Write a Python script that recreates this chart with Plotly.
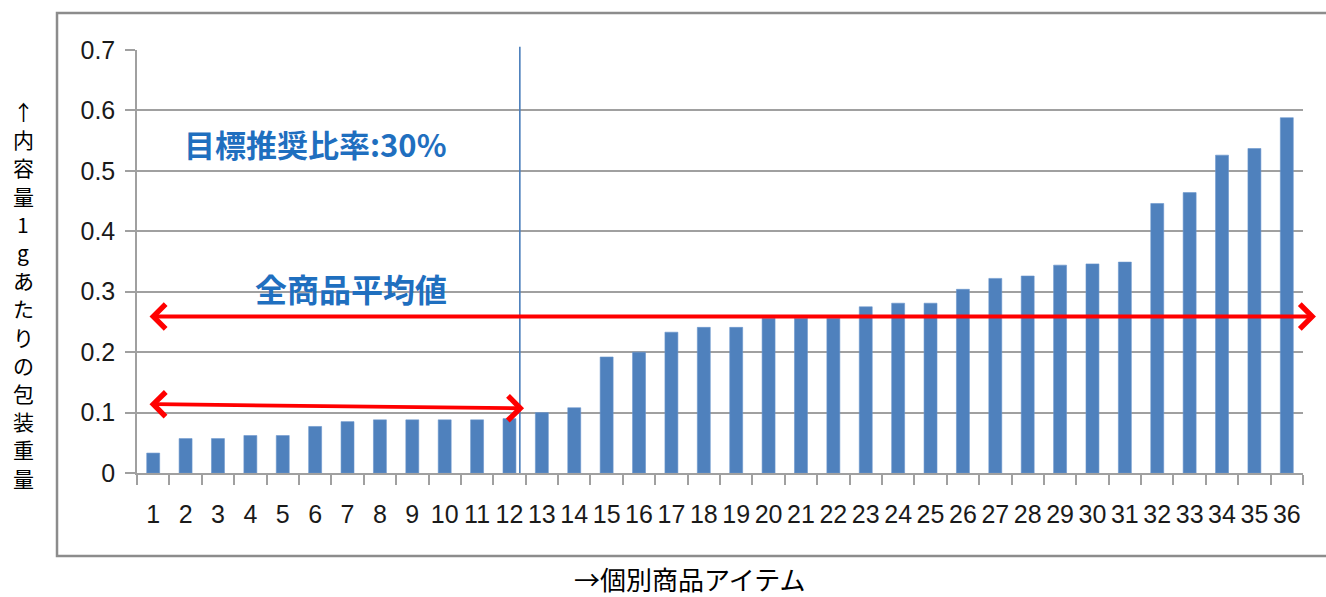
import plotly.graph_objects as go

# ---- data ----
item_labels = [str(i) for i in range(1, 37)]
weight_per_gram = [
    0.033, 0.057, 0.057, 0.062, 0.062, 0.077, 0.085, 0.088, 0.088, 0.088, 0.088, 0.090,
    0.100, 0.108, 0.192, 0.200, 0.233, 0.241, 0.241, 0.256, 0.256, 0.256, 0.275, 0.281,
    0.281, 0.304, 0.322, 0.326, 0.344, 0.346, 0.349, 0.446, 0.464, 0.526, 0.537, 0.588,
]
y_ticks = [0, 0.1, 0.2, 0.3, 0.4, 0.5, 0.6, 0.7]
y_tick_text = ["0", "0.1", "0.2", "0.3", "0.4", "0.5", "0.6", "0.7"]

avg_level = 0.259          # 全商品平均値 line
target_split = 11.32       # 目標推奨比率 30% divider (category index)
target_line_top = 0.708
low_arrow_left = 0.114
low_arrow_right = 0.107

y_title = "↑内容量1gあたりの包装重量"
x_title = "→個別商品アイテム"

BLUE_TXT = "#1f6fbf"
GRID = "#a0a0a0"
CJK = "Noto Sans CJK JP"
NUM = "Liberation Sans"

fig = go.Figure()
fig.add_trace(go.Bar(
    x=item_labels, y=weight_per_gram,
    marker=dict(color="#4f81bd", line=dict(color="#6a96cc", width=0.6)),
    showlegend=False, hoverinfo="x+y",
))

annotations = []
# vertical divider line
annotations.append(dict(
    x=target_split, y=0, ax=target_split, ay=target_line_top,
    xref="x", yref="y", axref="x", ayref="y", text="",
    showarrow=True, arrowhead=0, arrowwidth=1.6, arrowcolor="#4a7ebb",
))
# average arrow (double headed)
annotations.append(dict(
    x=35.9, y=avg_level, ax=-0.16, ay=avg_level,
    xref="x", yref="y", axref="x", ayref="y", text="",
    showarrow=True, arrowhead=4, startarrowhead=4, arrowside="end+start",
    arrowwidth=3.8, arrowsize=1.25, startarrowsize=1.25, arrowcolor="#ff0000",
))
# low group arrow
annotations.append(dict(
    x=11.45, y=low_arrow_right, ax=-0.16, ay=low_arrow_left,
    xref="x", yref="y", axref="x", ayref="y", text="",
    showarrow=True, arrowhead=4, startarrowhead=4, arrowside="end+start",
    arrowwidth=3.8, arrowsize=1.25, startarrowsize=1.25, arrowcolor="#ff0000",
))
annotations.append(dict(
    x=5.0, y=0.546, xref="x", yref="y", text="<b>目標推奨比率:30%</b>",
    xanchor="center", yanchor="middle",
    showarrow=False, font=dict(family=CJK, size=31, color=BLUE_TXT),
))
annotations.append(dict(
    x=6.1, y=0.306, xref="x", yref="y", text="<b>全商品平均値</b>",
    xanchor="center", yanchor="middle",
    showarrow=False, font=dict(family=CJK, size=32, color=BLUE_TXT),
))
# vertical (top-to-bottom) y-axis title, one character per line
plot_top_px, plot_h_px, plot_l_px, plot_w_px = 50, 423, 137, 1166
for i, ch in enumerate(y_title):
    cy = 111 + i * 28.2
    annotations.append(dict(
        x=(23 - plot_l_px) / plot_w_px, y=(plot_top_px + plot_h_px - cy) / plot_h_px,
        xref="paper", yref="paper", text=ch, showarrow=False,
        xanchor="center", yanchor="middle",
        font=dict(family=CJK, size=21, color="#000"),
    ))
annotations.append(dict(
    x=0.474, y=(plot_top_px + plot_h_px - 578) / plot_h_px, xref="paper", yref="paper",
    text=x_title, xanchor="center", yanchor="middle",
    showarrow=False, font=dict(family=CJK, size=26, color="#000"),
))

fig.update_layout(
    width=1326, height=597,
    margin=dict(l=137, r=23, t=50, b=124),
    paper_bgcolor="white", plot_bgcolor="white",
    bargap=0.6,
    annotations=annotations,
    shapes=[dict(type="rect", xref="paper", yref="paper",
                 x0=-0.0686, x1=1.06, y0=-0.196, y1=1.0875,
                 line=dict(color="#8c8c8c", width=2.5), layer="below")],
    xaxis=dict(
        type="category", tickson="boundaries", ticks="outside", ticklen=10,
        tickcolor=GRID, tickwidth=1.5, showline=True, linecolor=GRID, linewidth=1.5,
        showgrid=False, tickfont=dict(family=NUM, size=25, color="#1a1a1a"),
        tickangle=0, ticklabelstandoff=18, range=[-0.5, 35.5],
    ),
    yaxis=dict(
        range=[0, 0.7], tickmode="array", tickvals=y_ticks, ticktext=y_tick_text,
        ticks="outside", ticklen=10, tickcolor=GRID, tickwidth=1.5,
        showline=True, linecolor=GRID, linewidth=1.5,
        showgrid=True, gridcolor=GRID, gridwidth=1.5, zeroline=False,
        tickfont=dict(family=NUM, size=25, color="#1a1a1a"), ticklabelstandoff=5,
    ),
)

fig.write_html("out.html")
